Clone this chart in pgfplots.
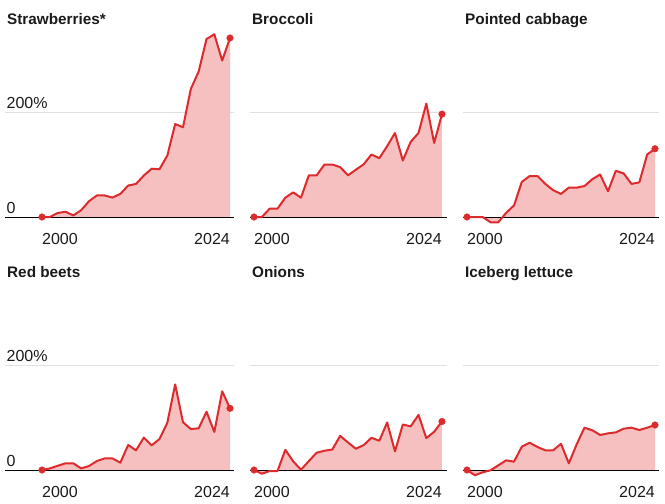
\documentclass[border=0pt]{standalone}
\usepackage{pgfplots}
\pgfplotsset{compat=1.18}
\usepackage{fontspec}
\setmainfont{Liberation Sans}
\definecolor{lred}{HTML}{DD2A2C}
\definecolor{lfill}{HTML}{F6C0C0}
\definecolor{lgrid}{HTML}{E0E0E0}
\definecolor{txt}{HTML}{1A1A1A}
\pgfplotsset{
 panel/.style={
  scale only axis, height=196.875pt, ymin=-15, ymax=360,
  axis line style={draw=none}, tick style={draw=none}, major tick length=0pt,
  ytick={0,200}, ymajorgrids, grid style={lgrid, line width=0.9pt},
  yticklabels={},
  xtick={2000}, xticklabels={2000},
  extra x ticks={2024}, extra x tick labels={2024},
  extra x tick style={xmajorgrids=false, xticklabel style={anchor=north east}},
  xticklabel style={anchor=north west, inner sep=0pt, yshift=-8.4pt, font=\fontsize{16}{18}\selectfont, text=txt},
  title style={at={(0,1)}, anchor=base west, inner sep=0pt, yshift=-2pt, xshift=2pt, font=\fontsize{15.3}{18}\selectfont\bfseries, text=txt},
  clip=false,
 },
 ylab/.style={yticklabels={0,200\%}, yticklabel style={anchor=base west, inner sep=0pt, xshift=1.5pt, yshift=3.5pt, font=\fontsize{16}{18}\selectfont, text=txt}},
 col1/.style={width=229pt, xmin=1995.28, xmax=2024.51},
 col2/.style={width=197pt, xmin=1999.49, xmax=2024.64},
 col3/.style={width=196pt, xmin=1999.49, xmax=2024.51},
 dataline/.style={lred, line width=2pt, line join=round},
 datafill/.style={draw=none, fill=lfill},
 dots/.style={only marks, mark=*, mark size=3.3pt, lred},
}
\begin{document}
\begin{tikzpicture}
\useasboundingbox (0pt,0pt) rectangle (665pt,-504pt);
% Strawberries
\begin{axis}[panel, col1, ylab, at={(5pt,-224.875pt)}, anchor=south west, title={Strawberries*}]
\addplot[datafill] coordinates {(2000,0)(2001,0)(2002,7.6)(2003,10)(2004,3)(2005,13)(2006,30)(2007,41)(2008,41)(2009,37)(2010,44)(2011,60)(2012,63)(2013,79)(2014,92)(2015,91)(2016,117)(2017,177)(2018,171)(2019,244)(2020,277)(2021,339)(2022,348)(2023,298)(2024,341)(2024,0)};
\addplot[black, line width=1pt] coordinates {(1995.28,0)(2024.51,0)};
\addplot[dataline] coordinates {(2000,0)(2001,0)(2002,7.6)(2003,10)(2004,3)(2005,13)(2006,30)(2007,41)(2008,41)(2009,37)(2010,44)(2011,60)(2012,63)(2013,79)(2014,92)(2015,91)(2016,117)(2017,177)(2018,171)(2019,244)(2020,277)(2021,339)(2022,348)(2023,298)(2024,341)};
\addplot[dots] coordinates {(2000,0)(2024,341)};
\end{axis}
% Broccoli
\begin{axis}[panel, col2, at={(250pt,-224.875pt)}, anchor=south west, title={Broccoli}]
\addplot[datafill] coordinates {(2000,0)(2001,0)(2002,15.9)(2003,15.9)(2004,36.8)(2005,47)(2006,36.8)(2007,79.4)(2008,79.4)(2009,100)(2010,100)(2011,95)(2012,79.4)(2013,90)(2014,100.3)(2015,119)(2016,112)(2017,135)(2018,160)(2019,107.6)(2020,143)(2021,160)(2022,216)(2023,141)(2024,196)(2024,0)};
\addplot[black, line width=1pt] coordinates {(1999.49,0)(2024.64,0)};
\addplot[dataline] coordinates {(2000,0)(2001,0)(2002,15.9)(2003,15.9)(2004,36.8)(2005,47)(2006,36.8)(2007,79.4)(2008,79.4)(2009,100)(2010,100)(2011,95)(2012,79.4)(2013,90)(2014,100.3)(2015,119)(2016,112)(2017,135)(2018,160)(2019,107.6)(2020,143)(2021,160)(2022,216)(2023,141)(2024,196)};
\addplot[dots] coordinates {(2000,0)(2024,196)};
\end{axis}
% Pointed cabbage
\begin{axis}[panel, col3, at={(463pt,-224.875pt)}, anchor=south west, title={Pointed cabbage}]
\addplot[datafill] coordinates {(2000,0)(2001,0)(2002,0)(2003,-10)(2004,-10)(2005,8)(2006,22)(2007,67)(2008,78)(2009,78)(2010,63)(2011,51)(2012,44)(2013,56)(2014,56)(2015,59)(2016,72)(2017,81)(2018,49)(2019,88)(2020,83)(2021,63)(2022,66)(2023,119)(2024,130)(2024,0)};
\addplot[black, line width=1pt] coordinates {(1999.49,0)(2024.51,0)};
\addplot[dataline] coordinates {(2000,0)(2001,0)(2002,0)(2003,-10)(2004,-10)(2005,8)(2006,22)(2007,67)(2008,78)(2009,78)(2010,63)(2011,51)(2012,44)(2013,56)(2014,56)(2015,59)(2016,72)(2017,81)(2018,49)(2019,88)(2020,83)(2021,63)(2022,66)(2023,119)(2024,130)};
\addplot[dots] coordinates {(2000,0)(2024,130)};
\end{axis}
% Red beets
\begin{axis}[panel, col1, ylab, at={(5pt,-477.875pt)}, anchor=south west, title={Red beets}]
\addplot[datafill] coordinates {(2000,0)(2001,3)(2002,8)(2003,12.7)(2004,12.7)(2005,3)(2006,7.6)(2007,17)(2008,22)(2009,22)(2010,14)(2011,47.6)(2012,37.5)(2013,61.6)(2014,47)(2015,59)(2016,90)(2017,163)(2018,91)(2019,78)(2020,79.4)(2021,111)(2022,72.4)(2023,150)(2024,117.5)(2024,0)};
\addplot[black, line width=1pt] coordinates {(1995.28,0)(2024.51,0)};
\addplot[dataline] coordinates {(2000,0)(2001,3)(2002,8)(2003,12.7)(2004,12.7)(2005,3)(2006,7.6)(2007,17)(2008,22)(2009,22)(2010,14)(2011,47.6)(2012,37.5)(2013,61.6)(2014,47)(2015,59)(2016,90)(2017,163)(2018,91)(2019,78)(2020,79.4)(2021,111)(2022,72.4)(2023,150)(2024,117.5)};
\addplot[dots] coordinates {(2000,0)(2024,117.5)};
\end{axis}
% Onions
\begin{axis}[panel, col2, at={(250pt,-477.875pt)}, anchor=south west, title={Onions}]
\addplot[datafill] coordinates {(2000,0)(2001,-7)(2002,-2)(2003,-2)(2004,38.6)(2005,16.5)(2006,0.6)(2007,17)(2008,33)(2009,36.7)(2010,39)(2011,65)(2012,52.5)(2013,40.5)(2014,47.5)(2015,61.4)(2016,55.7)(2017,90.5)(2018,35.4)(2019,86.7)(2020,83)(2021,105)(2022,60.8)(2023,72.8)(2024,92.4)(2024,0)};
\addplot[black, line width=1pt] coordinates {(1999.49,0)(2024.64,0)};
\addplot[dataline] coordinates {(2000,0)(2001,-7)(2002,-2)(2003,-2)(2004,38.6)(2005,16.5)(2006,0.6)(2007,17)(2008,33)(2009,36.7)(2010,39)(2011,65)(2012,52.5)(2013,40.5)(2014,47.5)(2015,61.4)(2016,55.7)(2017,90.5)(2018,35.4)(2019,86.7)(2020,83)(2021,105)(2022,60.8)(2023,72.8)(2024,92.4)};
\addplot[dots] coordinates {(2000,0)(2024,92.4)};
\end{axis}
% Iceberg lettuce
\begin{axis}[panel, col3, at={(463pt,-477.875pt)}, anchor=south west, title={Iceberg lettuce}]
\addplot[datafill] coordinates {(2000,0)(2001,-10)(2002,-4.4)(2003,-0.6)(2004,8.9)(2005,18.4)(2006,15.9)(2007,44.4)(2008,52)(2009,43.8)(2010,37.5)(2011,37.5)(2012,50)(2013,12.7)(2014,48.9)(2015,80.6)(2016,75.6)(2017,66.7)(2018,69.8)(2019,71.7)(2020,78.7)(2021,80.6)(2022,76.2)(2023,80.6)(2024,85.7)(2024,0)};
\addplot[black, line width=1pt] coordinates {(1999.49,0)(2024.51,0)};
\addplot[dataline] coordinates {(2000,0)(2001,-10)(2002,-4.4)(2003,-0.6)(2004,8.9)(2005,18.4)(2006,15.9)(2007,44.4)(2008,52)(2009,43.8)(2010,37.5)(2011,37.5)(2012,50)(2013,12.7)(2014,48.9)(2015,80.6)(2016,75.6)(2017,66.7)(2018,69.8)(2019,71.7)(2020,78.7)(2021,80.6)(2022,76.2)(2023,80.6)(2024,85.7)};
\addplot[dots] coordinates {(2000,0)(2024,85.7)};
\end{axis}
\end{tikzpicture}
\end{document}
